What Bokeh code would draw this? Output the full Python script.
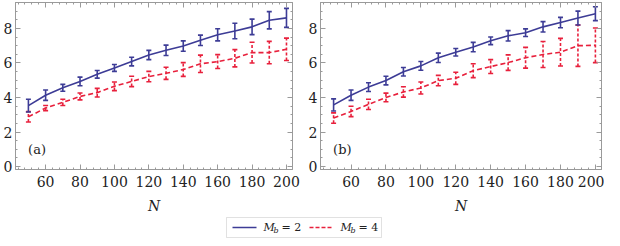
from bokeh.plotting import figure
from bokeh.layouts import column, row
from bokeh.models import LinearAxis, Range1d, SingleIntervalTicker, BoxAnnotation, Label
from bokeh.core.properties import value
from bokeh.embed import file_html
from bokeh.resources import INLINE

# ---------------- data ----------------
N = [50, 60, 70, 80, 90, 100, 110, 120, 130, 140, 150, 160, 170, 180, 190, 200]

a_mb2 = [3.53, 4.13, 4.56, 4.93, 5.34, 5.71, 6.08, 6.46, 6.73, 6.98, 7.31, 7.63, 7.85, 8.09, 8.47, 8.61]
a_mb2_err = [0.37, 0.30, 0.20, 0.25, 0.22, 0.20, 0.25, 0.27, 0.30, 0.30, 0.30, 0.35, 0.45, 0.45, 0.50, 0.55]
a_mb4 = [2.88, 3.39, 3.72, 4.06, 4.28, 4.65, 4.93, 5.21, 5.40, 5.62, 5.95, 6.08, 6.27, 6.60, 6.60, 6.79]
a_mb4_err = [0.30, 0.15, 0.18, 0.20, 0.25, 0.25, 0.30, 0.30, 0.35, 0.40, 0.50, 0.40, 0.50, 0.60, 0.65, 0.65]

b_mb2 = [3.57, 4.13, 4.60, 4.98, 5.49, 5.83, 6.30, 6.62, 6.92, 7.28, 7.57, 7.75, 8.09, 8.34, 8.60, 8.85]
b_mb2_err = [0.35, 0.30, 0.25, 0.25, 0.25, 0.25, 0.27, 0.22, 0.27, 0.22, 0.30, 0.22, 0.30, 0.30, 0.40, 0.40]
b_mb4 = [2.81, 3.19, 3.60, 4.00, 4.32, 4.55, 4.98, 5.11, 5.55, 5.79, 6.02, 6.30, 6.49, 6.62, 7.00, 7.02]
b_mb4_err = [0.30, 0.30, 0.30, 0.25, 0.30, 0.35, 0.30, 0.35, 0.40, 0.40, 0.45, 0.60, 0.75, 0.80, 1.20, 1.00]

panel_tags = ["(a)", "(b)"]
series_labels = ["2", "4"]
x_label = "N"

BLUE = "#3d3c96"
RED = "#e8203c"
FRAME = "#9a9a9a"
SERIF = "DejaVu Serif"


def style_axis(ax, show_labels, standoff=3):
    ax.axis_line_color = FRAME
    ax.major_tick_line_color = FRAME
    ax.minor_tick_line_color = FRAME
    ax.major_tick_in = 5
    ax.major_tick_out = 0
    ax.minor_tick_in = 2
    ax.minor_tick_out = 0
    if show_labels:
        ax.major_label_text_font = SERIF
        ax.major_label_text_font_size = "14px"
        ax.major_label_text_color = "#222222"
        ax.major_label_standoff = standoff
    else:
        ax.major_label_text_font_size = "0px"
        ax.major_label_text_color = None
        ax.major_label_standoff = 0


def panel(mb2, e2, mb4, e4, tag, width, min_left, min_right):
    p = figure(width=width, height=216,
               x_range=Range1d(42.5, 203.5), y_range=Range1d(-0.17, 9.5),
               output_backend="svg", toolbar_location=None,
               min_border_left=min_left, min_border_right=min_right,
               min_border_top=2, min_border_bottom=0)
    p.xgrid.visible = False
    p.ygrid.visible = False
    p.outline_line_color = FRAME
    p.background_fill_color = "white"
    p.border_fill_color = "white"

    p.xaxis.ticker = SingleIntervalTicker(interval=20, num_minor_ticks=5)
    p.yaxis.ticker = SingleIntervalTicker(interval=2, num_minor_ticks=4)
    style_axis(p.xaxis[0], True, 6)
    style_axis(p.yaxis[0], True, 3)
    p.xaxis.axis_label = x_label
    p.xaxis.axis_label_text_font = SERIF
    p.xaxis.axis_label_text_font_style = "italic"
    p.xaxis.axis_label_text_font_size = "14px"
    p.xaxis.axis_label_text_color = "#222222"
    p.xaxis.axis_label_standoff = 8

    top = LinearAxis(ticker=SingleIntervalTicker(interval=20, num_minor_ticks=5))
    style_axis(top, False)
    p.add_layout(top, "above")
    right = LinearAxis(ticker=SingleIntervalTicker(interval=2, num_minor_ticks=4))
    style_axis(right, False)
    p.add_layout(right, "right")

    for ys, es, col, dash, edash in [(mb4, e4, RED, "5 3", "3 2"), (mb2, e2, BLUE, "solid", "solid")]:
        lo = [y - e for y, e in zip(ys, es)]
        hi = [y + e for y, e in zip(ys, es)]
        p.segment(N, lo, N, hi, line_color=col, line_width=1.6, line_dash=edash)
        p.scatter(N, lo, marker="dash", size=5, line_color=col, line_width=1.6)
        p.scatter(N, hi, marker="dash", size=5, line_color=col, line_width=1.6)
        p.line(N, ys, line_color=col, line_width=1.6, line_dash=dash)

    p.add_layout(Label(x=55, y=1.0, text=tag, text_font=SERIF, text_font_size="13px",
                       text_align="center", text_baseline="middle", text_color="#222222"))
    return p


pa = panel(a_mb2, a_mb2_err, a_mb4, a_mb4_err, panel_tags[0], 300, 0, 8)
pb = panel(b_mb2, b_mb2_err, b_mb4, b_mb4_err, panel_tags[1], 304, 20, 3)

# ---------------- legend ----------------
lg = figure(width=604, height=24, x_range=Range1d(0, 604), y_range=Range1d(0, 24),
            output_backend="svg", toolbar_location=None,
            min_border_left=0, min_border_right=0, min_border_top=0, min_border_bottom=0)
lg.axis.visible = False
lg.grid.visible = False
lg.outline_line_color = None
lg.add_layout(BoxAnnotation(left=226, right=381, bottom=3, top=23,
                            fill_alpha=0, line_color=FRAME, line_width=1))
cy = 13
for x0, col, dash, lab in [(232, BLUE, "solid", series_labels[0]), (309, RED, "4 2", series_labels[1])]:
    lg.line([x0, x0 + 24], [cy, cy], line_color=col, line_width=1.6, line_dash=dash)
    tx = x0 + 31
    lg.text([tx], [cy], text=["M"], text_font=value(SERIF), text_font_style="italic",
            text_font_size="11px", text_baseline="middle", text_color="#222222")
    lg.text([tx + 10], [cy - 3], text=["b"], text_font=value(SERIF), text_font_style="italic",
            text_font_size="8px", text_baseline="middle", text_color="#222222")
    lg.text([tx + 18], [cy], text=["= " + lab], text_font=value(SERIF),
            text_font_size="11px", text_baseline="middle", text_color="#222222")

layout = column(row(pa, pb), lg)
open("out.html", "w").write(file_html(layout, INLINE))
